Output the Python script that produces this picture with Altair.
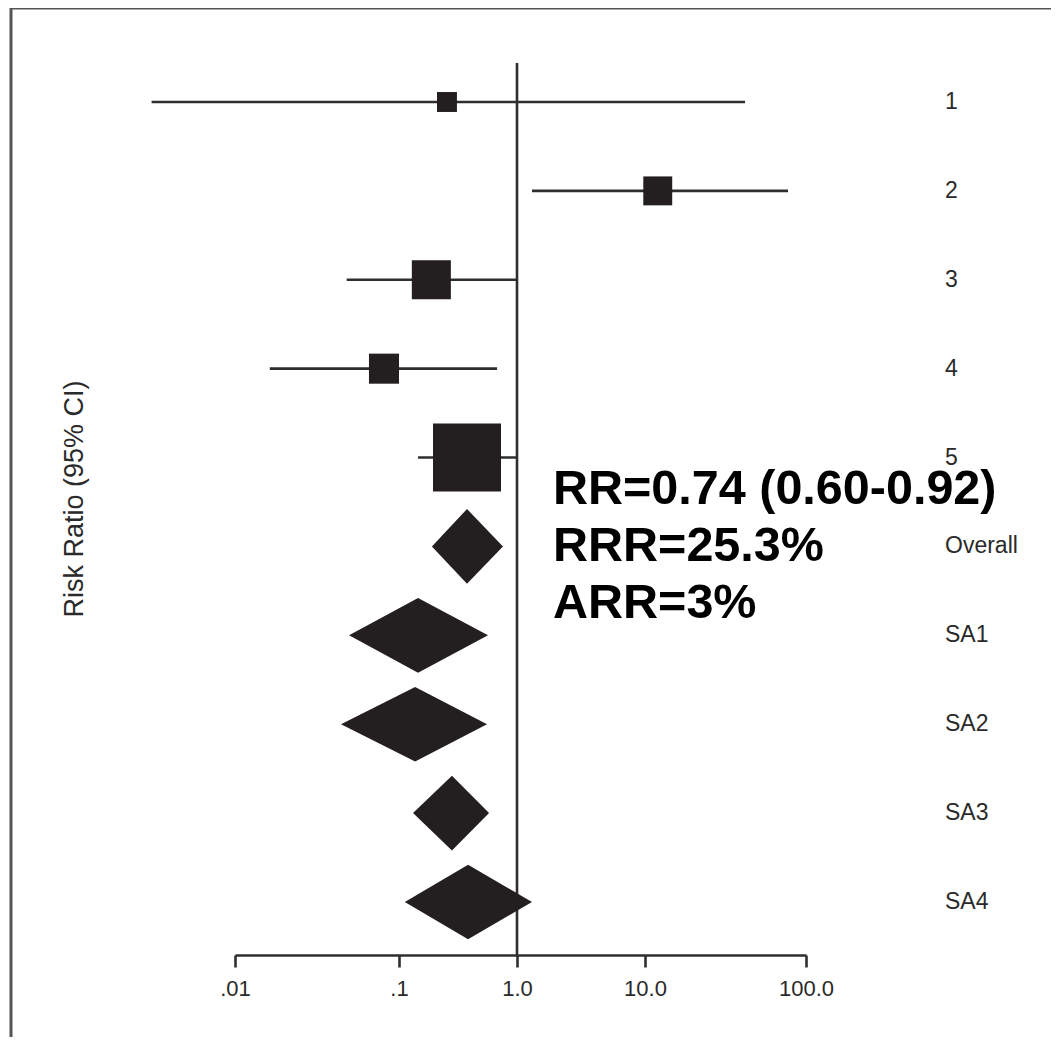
import altair as alt
import pandas as pd

# ---------------- data ----------------
row_labels = ["1", "2", "3", "4", "5", "Overall", "SA1", "SA2", "SA3", "SA4"]

study_labels = ["1", "2", "3", "4", "5"]
study_est = [0.255, 12.0, 0.188, 0.081, 0.377]
study_lo = [0.0031, 1.31, 0.048, 0.0163, 0.145]
study_hi = [41.8, 77.3, 1.0, 0.678, 1.0]
study_weight = [4.8, 10.1, 18.4, 10.9, 55.8]

pooled_labels = ["Overall", "SA1", "SA2", "SA3", "SA4"]
pooled_est = [0.377, 0.145, 0.137, 0.281, 0.385]
pooled_lo = [0.19, 0.0496, 0.0443, 0.1315, 0.112]
pooled_hi = [0.76, 0.568, 0.557, 0.58, 1.31]

tick_values = [0.01, 0.1, 1, 10, 100]
tick_labels = [".01", ".1", "1.0", "10.0", "100.0"]

y_title = "Risk Ratio (95% CI)"
annotation = ["RR=0.74 (0.60-0.92)", "RRR=25.3%", "ARR=3%"]

# ---------------- tables ----------------
row_of = {lab: i for i, lab in enumerate(row_labels)}
studies = pd.DataFrame({
    "label": study_labels,
    "row": [row_of[l] for l in study_labels],
    "est": study_est,
    "lo": study_lo,
    "hi": study_hi,
    "weight": study_weight,
})

HALF = 0.42  # diamond half-height in row units (style)
dia_rows = []
for lab, e, lo, hi in zip(pooled_labels, pooled_est, pooled_lo, pooled_hi):
    r = row_of[lab]
    dia_rows.append({"label": lab, "x": lo, "ytop": r, "ybot": r})
    dia_rows.append({"label": lab, "x": e, "ytop": r - HALF, "ybot": r + HALF})
    dia_rows.append({"label": lab, "x": hi, "ytop": r, "ybot": r})
diamonds = pd.DataFrame(dia_rows)

labels_df = pd.DataFrame({"label": row_labels, "row": list(range(len(row_labels)))})
one = pd.DataFrame({"a": [0]})

# ---------------- scales / axes ----------------
INK = "#231f20"
LINE = "#2e2e2e"
TXT = "#2a2a2a"
FONT = "Liberation Sans"

label_expr = " : ".join(
    f"datum.value < {v * 3.16:.4f} ? '{t}'" for v, t in zip(tick_values[:-1], tick_labels[:-1])
) + f" : '{tick_labels[-1]}'"

xscale = alt.Scale(type="log", domain=tick_values, range=[227, 391, 509, 637, 798], nice=False)
xaxis = alt.Axis(
    values=tick_values, labelExpr=label_expr, title=None, grid=False,
    domainColor=LINE, domainWidth=2.6, tickColor=LINE, tickWidth=2.6, tickSize=12,
    labelPadding=11, labelFont=FONT, labelFontSize=22, labelColor=TXT,
    labelFlush=False, labelOverlap=False,
)
yscale = alt.Scale(domain=[0, 9], range=[94, 894], nice=False, zero=False)

# ---------------- layers ----------------
frame_left = alt.Chart(one).mark_rule(color="#555555", strokeWidth=3).encode(
    x=alt.value(3), y=alt.value(0), y2=alt.value(1037))
frame_top = alt.Chart(one).mark_rule(color="#555555", strokeWidth=3).encode(
    x=alt.value(3), x2=alt.value(1043), y=alt.value(0))

ref_line = alt.Chart(one).mark_rule(color=LINE, strokeWidth=2.6).encode(
    x=alt.X(datum=1, scale=xscale, axis=xaxis),
    y=alt.value(55), y2=alt.value(947))

ci = alt.Chart(studies).mark_rule(color=LINE, strokeWidth=2.6).encode(
    x=alt.X("lo:Q", scale=xscale, axis=xaxis),
    x2="hi:Q",
    y=alt.Y("row:Q", scale=yscale, axis=None),
)

squares = alt.Chart(studies).mark_square(color=INK, opacity=1, strokeWidth=0).encode(
    x=alt.X("est:Q", scale=xscale, axis=xaxis),
    y=alt.Y("row:Q", scale=yscale, axis=None),
    size=alt.Size("weight:Q", scale=alt.Scale(domain=[0, 100], range=[0, 8286]), legend=None),
)

dia = alt.Chart(diamonds).mark_area(color=INK, opacity=1, orient="vertical").encode(
    x=alt.X("x:Q", scale=xscale, axis=xaxis),
    y=alt.Y("ytop:Q", scale=yscale, axis=None),
    y2="ybot:Q",
    detail="label:N",
)

row_text = alt.Chart(labels_df).mark_text(
    align="left", baseline="middle", font=FONT, fontSize=23, color=TXT
).encode(
    x=alt.value(937),
    y=alt.Y("row:Q", scale=yscale, axis=None),
    text="label:N",
)

ytitle = alt.Chart(one).mark_text(
    text=y_title, angle=270, align="center", baseline="middle",
    font=FONT, fontSize=27, color=TXT
).encode(x=alt.value(67), y=alt.value(491))

annot = alt.Chart(one).mark_text(
    text="\n".join(annotation), lineBreak="\n", lineHeight=57,
    align="left", baseline="top", font=FONT, fontSize=48.5, fontWeight="bold", color="black"
).encode(x=alt.value(545), y=alt.value(458))

chart = alt.layer(
    frame_left, frame_top, ref_line, ci, squares, dia, row_text, ytitle, annot
).properties(
    width=1043, height=947,
    background="white",
    autosize=alt.AutoSizeParams(type="none"),
    padding={"left": 0, "top": 0, "right": 0, "bottom": 82},
).configure_view(stroke=None)

chart.save("out.html", embed_options={"renderer": "svg", "actions": False})
